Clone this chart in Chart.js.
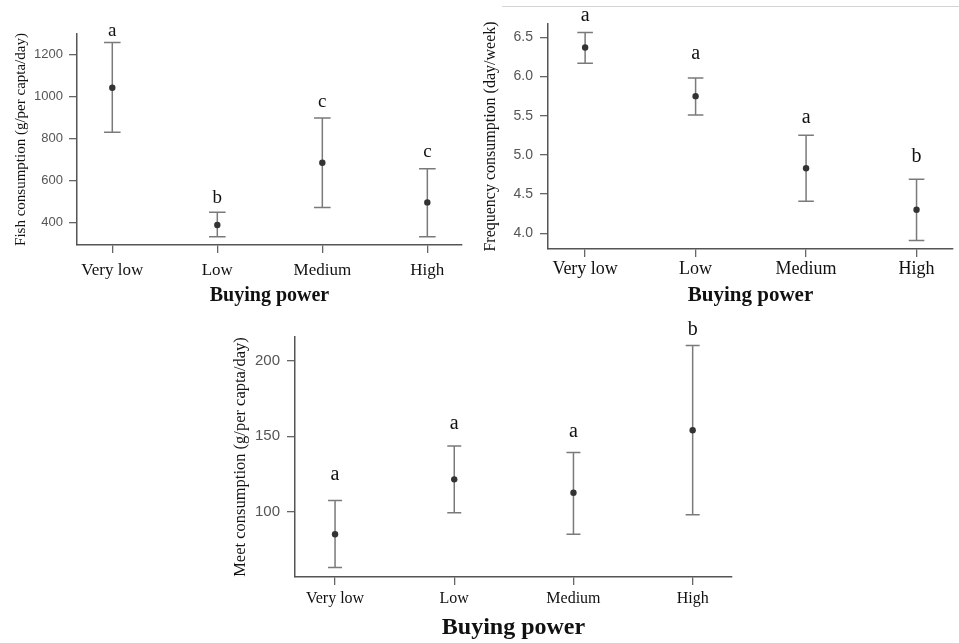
<!DOCTYPE html>
<html>
<head>
<meta charset="utf-8">
<script src="https://cdn.jsdelivr.net/npm/chart.js@4.4.0/dist/chart.umd.min.js"></script>
<style>
  body { margin:0; background:#fff; width:959px; height:643px; position:relative; overflow:hidden; }
  canvas { position:absolute; }
  #topLine { position:absolute; left:502px; top:6px; width:457px; height:0; border-top:1px solid #d4d4d4; }
</style>
</head>
<body>
<div id="topLine"></div>
<canvas id="fishChart" width="480" height="310" style="left:0;top:0"></canvas>
<canvas id="freqChart" width="479" height="310" style="left:480px;top:0"></canvas>
<canvas id="meatChart" width="520" height="323" style="left:220px;top:320px"></canvas>
<script>
const categories = ["Very low", "Low", "Medium", "High"];

// Fish consumption (g/per capta/day)
const fishMean = [1041, 387, 684, 495];
const fishLow = [829, 331, 471, 331];
const fishHigh = [1257, 448, 897, 655];
const fishLetters = ["a", "b", "c", "c"];
const fishLetterY = [1311, 516, 973, 735];
const fishTicks = [400, 600, 800, 1000, 1200];

// Frequency consumption (day/week)
const freqMean = [6.37, 5.75, 4.83, 4.30];
const freqLow = [6.17, 5.51, 4.41, 3.91];
const freqHigh = [6.56, 5.98, 5.25, 4.69];
const freqLetters = ["a", "a", "a", "b"];
const freqLetterY = [6.78, 6.29, 5.47, 4.98];
const freqTicks = [4.0, 4.5, 5.0, 5.5, 6.0, 6.5];

// Meet consumption (g/per capta/day)
const meatMean = [85.4, 121.6, 112.8, 154];
const meatLow = [63.4, 99.5, 85.4, 98.2];
const meatHigh = [107.7, 143.6, 139.4, 209.9];
const meatLetters = ["a", "a", "a", "b"];
const meatLetterY = [124.5, 158.6, 153, 220.3];
const meatTicks = [100, 150, 200];

// whiskers + significance letters
const errorBars = {
    id: "errorBars",
    beforeDatasetsDraw(chart, args, opts) {
        const { ctx, scales: { x, y } } = chart;
        ctx.save();
        ctx.strokeStyle = "#7a7a7a";
        ctx.lineWidth = 1.5;
        opts.low.forEach((lo, i) => {
            const px = x.getPixelForValue(i);
            const y1 = y.getPixelForValue(lo);
            const y2 = y.getPixelForValue(opts.high[i]);
            ctx.beginPath();
            ctx.moveTo(px, y1); ctx.lineTo(px, y2);
            ctx.moveTo(px - opts.cap, y1); ctx.lineTo(px + opts.cap, y1);
            ctx.moveTo(px - opts.cap, y2); ctx.lineTo(px + opts.cap, y2);
            ctx.stroke();
        });
        ctx.restore();
    },
    afterDatasetsDraw(chart, args, opts) {
        const { ctx, scales: { x, y } } = chart;
        ctx.save();
        ctx.fillStyle = "#111";
        ctx.font = opts.letterSize + "px 'Liberation Serif'";
        ctx.textAlign = "center";
        ctx.textBaseline = "middle";
        opts.letters.forEach((t, i) => {
            ctx.fillText(t, x.getPixelForValue(i), y.getPixelForValue(opts.letterY[i]));
        });
        ctx.restore();
    }
};

function makeChart(id, c) {
    return new Chart(document.getElementById(id), {
        type: "scatter",
        data: {
            datasets: [{
                data: c.mean.map((v, i) => ({ x: i, y: v })),
                backgroundColor: "#333",
                borderWidth: 0,
                pointRadius: 3.2,
                pointHoverRadius: 3.2
            }]
        },
        options: {
            responsive: false,
            animation: false,
            layout: { padding: { left: 0, top: c.top, right: c.right, bottom: 0 } },
            plugins: {
                legend: { display: false },
                tooltip: { enabled: false },
                errorBars: { low: c.low, high: c.high, cap: c.cap, letters: c.letters, letterY: c.letterY, letterSize: c.letterSize }
            },
            scales: {
                x: {
                    type: "linear",
                    min: -0.336,
                    max: 3.33,
                    afterBuildTicks: axis => { axis.ticks = categories.map((_, i) => ({ value: i })); },
                    afterFit: axis => { axis.height = c.xHeight; },
                    grid: { drawOnChartArea: false, drawTicks: true, tickLength: 8, color: "#666", lineWidth: 1.3 },
                    border: { display: true, color: "#555", width: 1.5 },
                    ticks: {
                        color: "#111",
                        padding: c.xPad,
                        font: { family: "'Liberation Serif'", size: c.xFont },
                        callback: v => categories[v]
                    },
                    title: {
                        display: true,
                        text: "Buying power",
                        color: "#111",
                        padding: { top: 0, bottom: c.titlePad },
                        font: { family: "'Liberation Serif'", size: c.titleFont, weight: "bold", lineHeight: 1.2 }
                    }
                },
                y: {
                    min: c.yMin,
                    max: c.yMax,
                    afterBuildTicks: axis => { axis.ticks = c.ticks.map(v => ({ value: v })); },
                    afterFit: axis => { axis.width = c.yWidth; },
                    grid: { drawOnChartArea: false, drawTicks: true, tickLength: 8, color: "#666", lineWidth: 1.3 },
                    border: { display: true, color: "#555", width: 1.5 },
                    ticks: {
                        color: "#555",
                        padding: c.yPad,
                        font: { family: "'Liberation Sans'", size: c.yFont },
                        callback: v => c.fmt(v)
                    },
                    title: {
                        display: true,
                        text: c.yTitle,
                        color: "#111",
                        padding: { top: c.yTitlePad, bottom: 0 },
                        font: { family: "'Liberation Serif'", size: c.yTitleFont, lineHeight: 1.2 }
                    }
                }
            }
        },
        plugins: [errorBars]
    });
}

makeChart("fishChart", {
    mean: fishMean, low: fishLow, high: fishHigh, letters: fishLetters, letterY: fishLetterY,
    ticks: fishTicks, yMin: 292, yMax: 1297, fmt: v => String(v),
    yTitle: "Fish consumption (g/per capta/day)",
    top: 34, right: 18, xHeight: 65, yWidth: 77,
    xFont: 17, xPad: 7, titleFont: 20, titlePad: 2,
    yFont: 13, yPad: 6, yTitleFont: 15, yTitlePad: 12,
    cap: 8.3, letterSize: 19
});

makeChart("freqChart", {
    mean: freqMean, low: freqLow, high: freqHigh, letters: freqLetters, letterY: freqLetterY,
    ticks: freqTicks, yMin: 3.80, yMax: 6.67, fmt: v => v.toFixed(1),
    yTitle: "Frequency consumption (day/week)",
    top: 24, right: 6, xHeight: 61, yWidth: 68,
    xFont: 18, xPad: 1, titleFont: 21, titlePad: 2,
    yFont: 14, yPad: 7, yTitleFont: 16, yTitlePad: 1.5,
    cap: 7.8, letterSize: 20
});

makeChart("meatChart", {
    mean: meatMean, low: meatLow, high: meatHigh, letters: meatLetters, letterY: meatLetterY,
    ticks: meatTicks, yMin: 57.2, yMax: 215.5, fmt: v => String(v),
    yTitle: "Meet consumption (g/per capta/day)",
    top: 17, right: 8, xHeight: 66, yWidth: 75,
    xFont: 16, xPad: 4, titleFont: 24, titlePad: 1,
    yFont: 15, yPad: 7, yTitleFont: 16.5, yTitlePad: 10.5,
    cap: 7, letterSize: 20
});
</script>
</body>
</html>
